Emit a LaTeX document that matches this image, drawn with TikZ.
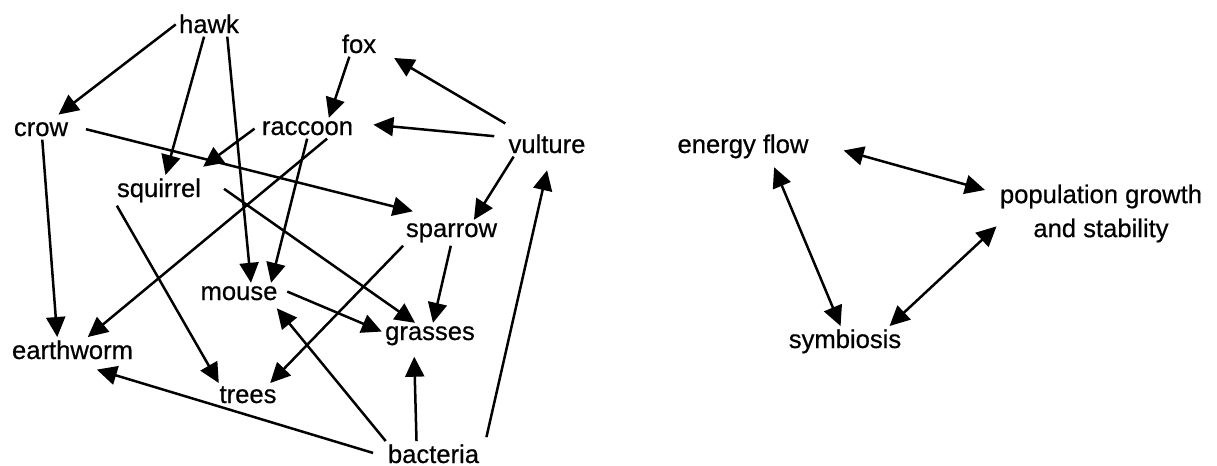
\documentclass[tikz,border=0pt]{standalone}
\usepackage{fontspec}
\setmainfont{Liberation Sans}
\newfontfamily\labelfont{Liberation Sans}[FakeBold=0.6]
\usetikzlibrary{arrows.meta}
\newcommand{\mytip}{Triangle[length=10pt,width=9.5pt]}

\begin{document}
\begin{tikzpicture}[x=0.5pt,y=-0.5pt,
    word/.style={inner sep=1.5pt,font=\labelfont\fontsize{12.8pt}{17pt}\selectfont},
    eats/.style={line width=1.25pt,-{\mytip}},
    both/.style={line width=1.25pt,{\mytip}-{\mytip}}]

 \useasboundingbox (0,0) rectangle (1217,466);

 % food web
 \node[word,anchor=base] (hawk) at (209,33) {hawk};
 \node[word,anchor=base] (fox) at (359,53) {fox};
 \node[word,anchor=base] (crow) at (41,136) {crow};
 \node[word,anchor=base] (raccoon) at (307.5,135) {raccoon};
 \node[word,anchor=base] (vulture) at (547,153) {vulture};
 \node[word,anchor=base] (squirrel) at (159,197) {squirrel};
 \node[word,anchor=base] (sparrow) at (451.5,237) {sparrow};
 \node[word,anchor=base] (mouse) at (239,300) {mouse};
 \node[word,anchor=base] (grasses) at (430,340) {grasses};
 \node[word,anchor=base] (earthworm) at (72.5,359) {earthworm};
 \node[word,anchor=base] (trees) at (248,403) {trees};
 \node[word,anchor=base] (bacteria) at (433.5,463) {bacteria};

 \draw[eats,shorten >=3.5pt] (hawk.181) -- (crow.41);
 \draw[eats] (hawk.249) -- (squirrel.67);
 \draw[eats] (hawk.325) -- (mouse.41);
 \draw[eats] (fox.233) -- (raccoon.26);
 \draw[eats,shorten <=7.5pt,shorten >=8.5pt] (vulture.156) -- (fox.345);
 \draw[eats,shorten <=5.5pt,shorten >=8.5pt] (vulture.171) -- (raccoon.6);
 \draw[eats] (vulture.201) -- (sparrow.30);
 \draw[eats,shorten <=2.5pt,shorten >=7pt] (raccoon.177) -- (squirrel.25);
 \draw[eats] (raccoon.332) -- (earthworm.40);
 \draw[eats] (raccoon.268) -- (mouse.18);
 \draw[eats,shorten <=7.5pt,shorten >=17.5pt] (crow.7) -- (sparrow.110);
 \draw[eats] (crow.277) -- (earthworm.140);
 \draw[eats] (squirrel.200) -- (trees.158);
 \draw[eats,shorten <=12pt] (squirrel.north east) -- (grasses.139);
 \draw[eats] (sparrow.195) -- (trees.28);
 \draw[eats] (sparrow.267) -- (grasses.77);
 \draw[eats,shorten <=3.5pt] (mouse.6) -- (grasses.175);
 \draw[eats,shorten <=6pt,shorten >=12pt] (bacteria.183) -- (earthworm.276);
 \draw[eats,shorten >=3pt] (bacteria.165) -- (mouse.343);
 \draw[eats,shorten >=4pt] (bacteria.143) -- (grasses.219);
 \draw[eats,shorten <=9pt,shorten >=7pt] (bacteria.359) -- (vulture.284);

 % concepts
 \node[word,anchor=base] (energy) at (743,153) {energy flow};
 \node[word,align=center] (population) at (1101,213.5) {population growth\\and stability};
 \node[word,anchor=base] (symbiosis) at (845,348) {symbiosis};

 \draw[both,shorten <=16.5pt,shorten >=6pt] (energy.4) -- (population.169);
 \draw[both,shorten <=3pt] (energy.332) -- (symbiosis.106);
 \draw[both] (population.187) -- (symbiosis.19);

\end{tikzpicture}
\end{document}
